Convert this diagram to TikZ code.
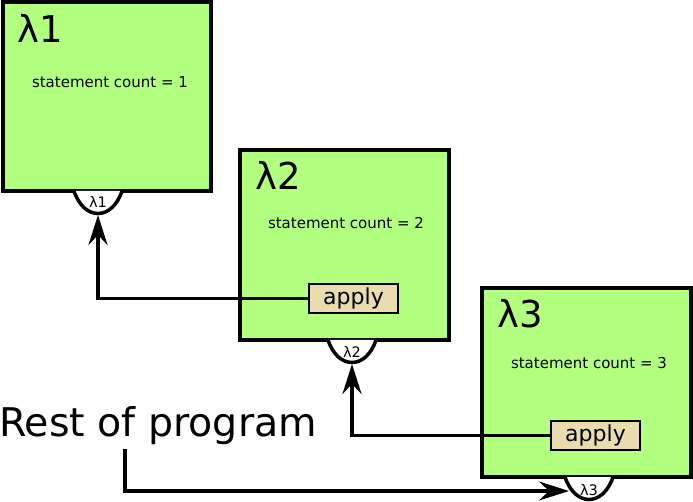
\documentclass[tikz,border=0pt]{standalone}
\usepackage{fontspec}
\setmainfont{DejaVu Sans}
\usetikzlibrary{arrows.meta,calc}
\definecolor{boxgreen}{RGB}{179,255,128}
\definecolor{applyfill}{RGB}{233,221,175}
\tikzset{
  lambdabox/.style={draw=black, line width=3.5pt, fill=boxgreen},
  applybox/.style={draw=black, line width=2.2pt, fill=applyfill, minimum width=89pt, minimum height=29pt, inner sep=0pt, font=\fontsize{22}{24}\selectfont},
  bigname/.style={anchor=base west, inner sep=0pt, font=\fontsize{37}{40}\selectfont},
  counttext/.style={anchor=base, inner sep=0pt, font=\fontsize{15}{16}\selectfont},
  tabshape/.style={draw=black, line width=3.5pt, fill=white},
  tablabel/.style={inner sep=0pt, anchor=base, font=\fontsize{14.5}{15}\selectfont},
  conn/.style={draw=black, line width=3.2pt, -{Stealth[length=30pt,width=19pt,inset=10pt]}}
}
\begin{document}
\begin{tikzpicture}[x=1pt,y=-1pt]
\useasboundingbox (0,0) rectangle (693,502);
% boxes
\draw[lambdabox] (3,2) rectangle (211,191);
\draw[lambdabox] (240,150) rectangle (449,340);
\draw[lambdabox] (482,288) rectangle (691,477);
% titles
\node[bigname] (n1) at (17,43) {λ1};
\node[bigname] (n2) at (255,190) {λ2};
\node[bigname] (n3) at (497,328) {λ3};
% counts
\node[counttext] (c1) at (110,88) {statement count = 1};
\node[counttext] (c2) at (346,229) {statement count = 2};
\node[counttext] (c3) at (589,368) {statement count = 3};
% tabs
\coordinate (t1) at (98,191);
\coordinate (t2) at (352,340);
\coordinate (t3) at (589,477);
\foreach \t in {t1,t2,t3}{
  \draw[tabshape] ($(\t)+(-24,0)$) .. controls ($(\t)+(-14,30)$) and ($(\t)+(14,30)$) .. ($(\t)+(24,0)$);
}
\coordinate (b1) at (98,215);
\coordinate (b2) at (352,364);
\coordinate (b3) at (569,491);
\node[tablabel] (l1) at (98,208) {λ1};
\node[tablabel] (l2) at (352,357) {λ2};
\node[tablabel] (l3) at (589,495) {λ3};
% apply boxes
\node[applybox] (a1) at (353.5,298.5) {apply};
\node[applybox] (a2) at (595.5,435.5) {apply};
% rest
\node[inner sep=0pt, anchor=base, font=\fontsize{39.5}{42}\selectfont] (rest) at (158,436) {Rest of program};
\coordinate (r0) at (125,449);
% connectors
\draw[conn] (a1.west) -| (b1);
\draw[conn] (a2.west) -| (b2);
\draw[conn] (r0) |- (b3);
\end{tikzpicture}
\end{document}
